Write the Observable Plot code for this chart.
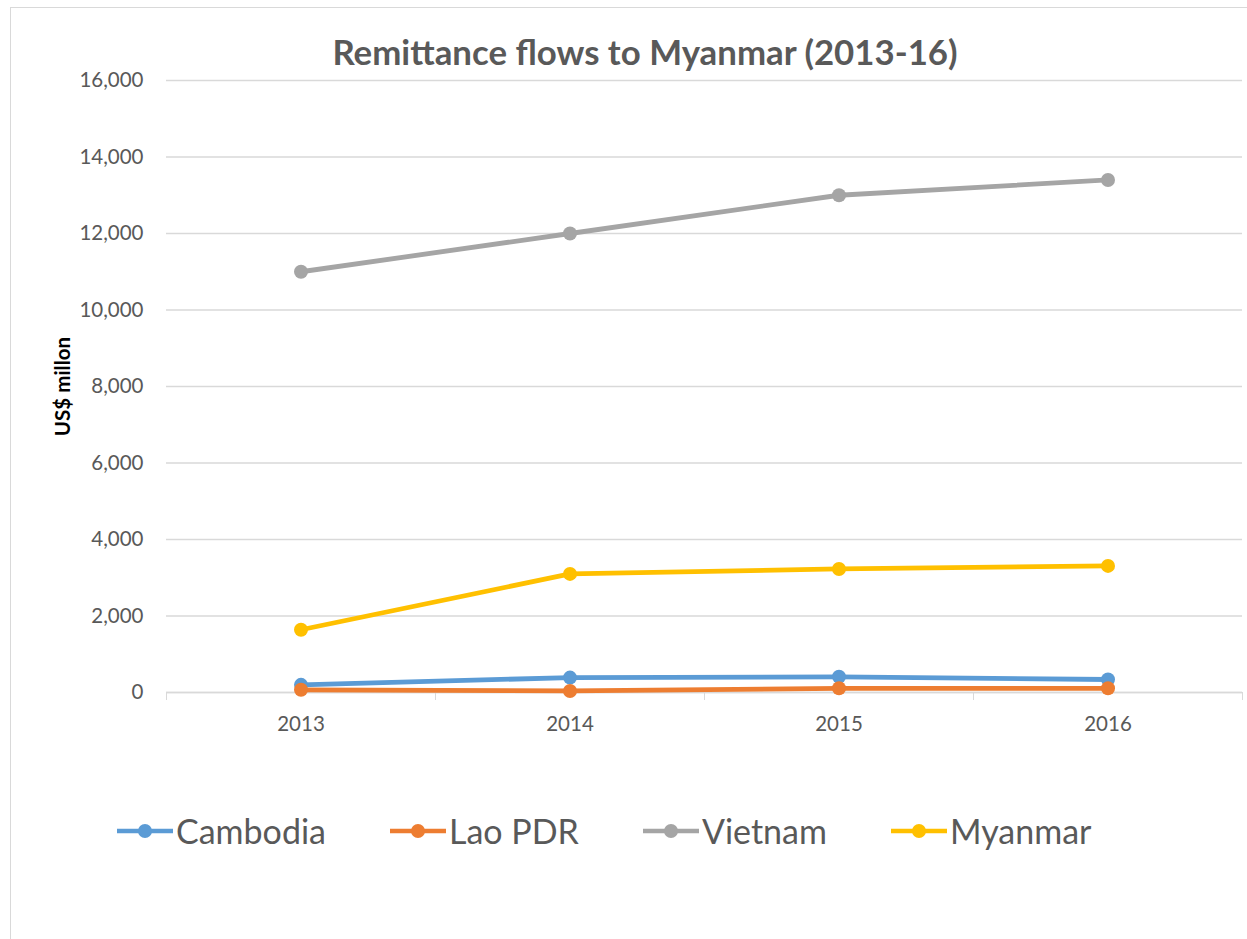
<!DOCTYPE html>
<html>
<head>
<meta charset="utf-8">
<script src="https://cdn.jsdelivr.net/npm/d3@7"></script>
<script src="https://cdn.jsdelivr.net/npm/@observablehq/plot@0.6"></script>
<style>
  html, body { margin: 0; padding: 0; background: #fff; }
  body { width: 1247px; height: 939px; position: relative; overflow: hidden; font-family: Lato, "Open Sans", sans-serif; color: #595959; }
  #frame { position: absolute; left: 10px; top: 7px; width: 1300px; height: 1000px; border-top: 1px solid #d9d9d9; border-left: 1px solid #d9d9d9; }
  #title { position: absolute; left: 0; width: 1290px; top: 30px; text-align: center; font-size: 34.8px; font-weight: bold; line-height: 44px; }
  #chart { position: absolute; left: 0; top: 70px; }
  #chart [aria-label="y-axis label"] text, #chart [aria-label="y-axis label"] { font-weight: bold; fill: #000; }
  #legend { position: absolute; left: 117px; top: 810px; display: flex; align-items: center; gap: 64px; font-size: 34px; line-height: 42px; }
  .item { display: flex; align-items: center; }
  .item span { margin-left: 3px; }
</style>
</head>
<body>
<div id="frame"></div>
<div id="title">Remittance flows to Myanmar (2013-16)</div>
<div id="chart"></div>
<div id="legend"></div>
<script>
const years = [2013, 2014, 2015, 2016];
const seriesNames = ["Cambodia", "Lao PDR", "Vietnam", "Myanmar"];
const seriesColors = ["#5B9BD5", "#ED7D31", "#A5A5A5", "#FFC000"];
const cambodia = [200, 390, 410, 340];
const lao = [70, 40, 110, 110];
const vietnam = [11000, 12000, 13000, 13400];
const myanmar = [1640, 3100, 3230, 3310];
const yTicks = [0, 2000, 4000, 6000, 8000, 10000, 12000, 14000, 16000];
const xBoundaries = [2012.5, 2013.5, 2014.5, 2015.5, 2016.5];

const seriesValues = [cambodia, lao, vietnam, myanmar];
const data = seriesNames.flatMap((name, i) =>
  years.map((year, j) => ({series: name, year, value: seriesValues[i][j]}))
);

const seriesMarks = seriesNames.flatMap(name => {
  const d = data.filter(r => r.series === name);
  return [
    Plot.line(d, {x: "year", y: "value", stroke: "series", strokeWidth: 4.8}),
    Plot.dot(d, {x: "year", y: "value", fill: "series", r: 7})
  ];
});

const chart = Plot.plot({
  width: 1247,
  height: 672,
  marginTop: 10,
  marginBottom: 50,
  marginLeft: 166,
  marginRight: 5,
  style: {fontFamily: "Lato, 'Open Sans', sans-serif", fontSize: "20.5px", color: "#595959", background: "transparent", overflow: "visible"},
  x: {domain: [2012.5, 2016.5]},
  y: {domain: [0, 16000]},
  color: {domain: seriesNames, range: seriesColors},
  marks: [
    Plot.gridY(yTicks, {stroke: "#d9d9d9", strokeOpacity: 1, strokeWidth: 1.5}),
    Plot.axisY(yTicks, {tickSize: 0, tickPadding: 23, tickFormat: d3.format(","), label: "US$ millon", labelAnchor: "center", labelArrow: "none", labelOffset: 111}),
    Plot.axisX(xBoundaries, {tickSize: 8, tickFormat: () => "", stroke: "#d9d9d9", strokeOpacity: 1, label: null}),
    Plot.axisX(years, {tickSize: 0, tickPadding: 24, tickFormat: d => String(d), label: null}),
    Plot.ruleY([0], {stroke: "#d9d9d9", strokeWidth: 1.5}),
    ...seriesMarks
  ]
});
document.getElementById("chart").appendChild(chart);

const legend = document.getElementById("legend");
seriesNames.forEach((name, i) => {
  const item = document.createElement("div");
  item.className = "item";
  item.innerHTML = `<svg width="56" height="20"><line x1="0" x2="56" y1="10" y2="10" stroke="${seriesColors[i]}" stroke-width="4.5"/><circle cx="28" cy="10" r="7" fill="${seriesColors[i]}"/></svg><span>${name}</span>`;
  legend.appendChild(item);
});
</script>
</body>
</html>
